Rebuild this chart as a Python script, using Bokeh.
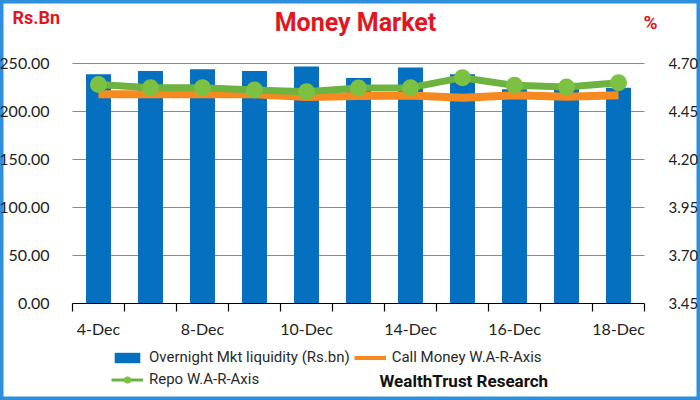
from bokeh.plotting import figure
from bokeh.models import (Range1d, LinearAxis, FixedTicker, NumeralTickFormatter,
                          Legend, LegendItem, Label, ColumnDataSource)
from bokeh.embed import file_html
from bokeh.resources import INLINE

categories = ["4-Dec", "7-Dec", "8-Dec", "9-Dec", "10-Dec", "11-Dec",
              "14-Dec", "15-Dec", "16-Dec", "17-Dec", "18-Dec"]
liquidity = [238.7, 242.2, 244.0, 242.2, 246.8, 234.9, 245.7, 238.7, 223.0, 226.0, 224.8]
call_money = [4.54, 4.54, 4.54, 4.54, 4.525, 4.53, 4.533, 4.521, 4.534, 4.527, 4.534]
repo = [4.59, 4.574, 4.574, 4.562, 4.553, 4.572, 4.574, 4.626, 4.586, 4.577, 4.60]
labeled = ["4-Dec", "8-Dec", "10-Dec", "14-Dec", "16-Dec", "18-Dec"]
left_ticks = [0, 50, 100, 150, 200, 250]
right_ticks = [3.45, 3.70, 3.95, 4.20, 4.45, 4.70]

TEXTF = "Roboto"
TICKF = "Lato"
RED = "#e3161f"
BLUE = "#0570c0"
ORANGE = "#f68a20"
GREEN = "#6cb33f"
GREEN_DOT = "#7dc142"

# page layout (pixels)
W, H = 700, 400
PLOT_L, PLOT_R = 72, 644      # category band
TOP_Y, ZERO_Y = 63, 302.5     # page y of top gridline and of the zero line

n = len(categories)
cat_w = (PLOT_R - PLOT_L) / n
x_start = -0.5 - PLOT_L / cat_w
x_end = -0.5 + (W - PLOT_L) / cat_w
ppl = (ZERO_Y - TOP_Y) / (left_ticks[-1] - left_ticks[0])
ppr = (ZERO_Y - TOP_Y) / (right_ticks[-1] - right_ticks[0])
yl = (left_ticks[0] - (H - ZERO_Y) / ppl, left_ticks[0] + ZERO_Y / ppl)
yr = (right_ticks[0] - (H - ZERO_Y) / ppr, right_ticks[0] + ZERO_Y / ppr)

idx = list(range(n))
src = ColumnDataSource(dict(x=idx, liq=liquidity, call=call_money, repo=repo))

p = figure(width=W, height=H, output_backend="svg", toolbar_location=None,
           x_range=Range1d(x_start, x_end), y_range=Range1d(*yl), min_border=0)
p.extra_y_ranges = {"pct": Range1d(*yr)}
p.background_fill_color = "white"
p.border_fill_color = "white"
p.outline_line_color = "#2e8fdc"
p.outline_line_width = 6

# x axis along the zero line
xa = p.xaxis[0]
xa.fixed_location = 0
xa.bounds = (-0.5, n - 0.5)
xa.ticker = FixedTicker(ticks=[i for i, c in enumerate(categories) if c in labeled],
                        minor_ticks=[i - 0.5 for i in range(n + 1)])
xa.major_label_overrides = {i: c for i, c in enumerate(categories)}
xa.major_tick_in = 0
xa.major_tick_out = 0
xa.minor_tick_in = 0
xa.minor_tick_out = 8
xa.minor_tick_line_color = "black"
xa.minor_tick_line_width = 1.2
xa.axis_line_color = "black"
xa.axis_line_width = 1.2
xa.major_label_standoff = 8
xa.major_label_text_font = TICKF
xa.major_label_text_font_size = "16px"
xa.major_label_text_color = "#222222"

# left axis
ya = p.yaxis[0]
ya.fixed_location = -0.5
ya.ticker = FixedTicker(ticks=left_ticks)
ya.formatter = NumeralTickFormatter(format="0.00")
ya.axis_line_color = None
ya.major_tick_line_color = None
ya.minor_tick_line_color = None
ya.major_label_standoff = 17
ya.major_label_text_font = TICKF
ya.major_label_text_font_size = "16px"
ya.major_label_text_color = "#222222"

# right axis
ra = LinearAxis(y_range_name="pct", ticker=FixedTicker(ticks=right_ticks),
                formatter=NumeralTickFormatter(format="0.00"), fixed_location=n - 0.5)
ra.axis_line_color = None
ra.major_tick_line_color = None
ra.minor_tick_line_color = None
ra.major_label_standoff = 18
ra.major_label_text_font = TICKF
ra.major_label_text_font_size = "15px"
ra.major_label_text_color = "#222222"
p.add_layout(ra, "right")

p.xgrid.visible = False
p.ygrid.ticker = FixedTicker(ticks=left_ticks[1:])
p.ygrid.cross_bounds = (-0.5, n - 0.5)
p.ygrid.grid_line_color = "#8a8a8a"
p.ygrid.grid_line_width = 1

bars = p.vbar(x="x", top="liq", bottom=0, width=0.48, source=src,
              fill_color=BLUE, line_color=None)
p.line(x="x", y="call", source=src, y_range_name="pct", line_color=ORANGE, line_width=8)
p.line(x="x", y="repo", source=src, y_range_name="pct", line_color=GREEN, line_width=7)
p.scatter(x="x", y="repo", source=src, y_range_name="pct", size=17,
          fill_color=GREEN_DOT, line_color=None)

# legend keys: renderers with a single missing (NaN) point, drawn only in the legend
nan = float("nan")
key_src = ColumnDataSource(dict(x=[nan], y=[nan]))
key_call = p.line(x="x", y="y", source=key_src, line_color=ORANGE, line_width=4)
key_repo_line = p.line(x="x", y="y", source=key_src, line_color=GREEN, line_width=3)
key_repo_dot = p.scatter(x="x", y="y", source=key_src, size=11,
                         fill_color=GREEN_DOT, line_color=GREEN_DOT, line_width=2)

legend = Legend(items=[
    LegendItem(label="Overnight Mkt liquidity (Rs.bn)", renderers=[bars]),
    LegendItem(label="Call Money W.A-R-Axis", renderers=[key_call]),
    LegendItem(label="Repo W.A-R-Axis", renderers=[key_repo_line, key_repo_dot]),
], orientation="horizontal", ncols=2, location=(111, 12),
    border_line_color=None, background_fill_alpha=0, padding=0, margin=0,
    glyph_width=32, glyph_height=13, label_height=14, label_width=195,
    label_standoff=6, spacing=4,
    label_text_font=TEXTF, label_text_font_size="15px", label_text_color="#2a2a2a")
p.add_layout(legend)

def page_label(text, x, mid_y, size, align="left", color=RED):
    p.add_layout(Label(x=x, y=H - mid_y, x_units="screen", y_units="screen",
                       text=text, text_font=TEXTF, text_font_style="bold",
                       text_font_size=size, text_color=color,
                       text_align=align, text_baseline="middle"))

page_label("Money Market", 355, 21.5, "25px", "center")
page_label("Rs.Bn", 12, 17, "18px")
page_label("%", 650, 21.5, "19px", "center")
page_label("WealthTrust Research", 379, 380.5, "17px", "left", "#111111")

open("out.html", "w").write(file_html(p, INLINE))
